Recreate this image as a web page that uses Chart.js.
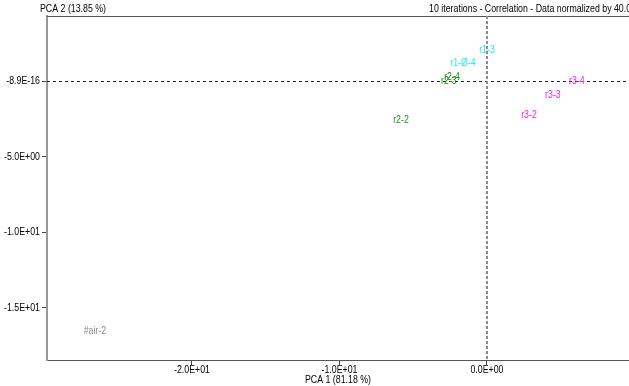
<!DOCTYPE html>
<html>
<head>
<meta charset="utf-8">
<script src="https://cdn.jsdelivr.net/npm/chart.js@4"></script>
<style>
  html, body { margin: 0; padding: 0; background: #fff; }
  #wrap { position: relative; width: 629px; height: 386px; }
</style>
</head>
<body>
<div id="wrap"><canvas id="chart"></canvas></div>
<script>
  // sample labels and their PCA coordinates
  const sampleNames = ['r1-3', 'r1-\u00d8-4', 'r2-4', 'r2-3', 'r2-2', 'r3-4', 'r3-3', 'r3-2', '#air-2'];
  const pca1 = [0.0, -1.63, -2.37, -2.58, -5.83, 6.10, 4.47, 2.85, -26.58];
  const pca2 = [2.05, 1.20, 0.30, 0.02, -2.55, -0.02, -0.90, -2.22, -16.55];
  const sampleColors = ['#22e6f5', '#22e6f5', '#1f8a1f', '#1f8a1f', '#1f8a1f', '#f020f0', '#f020f0', '#f020f0', '#8c8c8c'];

  const xTickValues = [-20, -10, 0];
  const xTickLabels = ['-2.0E+01', '-1.0E+01', '0.0E+00'];
  const yTickValues = [-8.9e-16, -5, -10, -15];
  const yTickLabels = ['-8.9E-16', '-5.0E+00', '-1.0E+01', '-1.5E+01'];

  const xTitle = 'PCA 1 (81.18 %)';
  const yTitle = 'PCA 2 (13.85 %)';
  const infoText = '10 iterations - Correlation - Data normalized by 40.00';

  // the original uses a condensed UI font; squeeze Liberation Sans to match
  const font = '11px "Liberation Sans", Arial, sans-serif';
  const squeeze = 0.8;

  const points = pca1.map((x, i) => ({ x, y: pca2[i] }));

  function drawText(ctx, text, x, y, align, color) {
    ctx.save();
    ctx.translate(x, y);
    ctx.scale(squeeze, 1);
    ctx.font = font;
    ctx.textAlign = align;
    ctx.fillStyle = color;
    ctx.fillText(text, 0, 0);
    ctx.restore();
  }

  const decorations = {
    id: 'decorations',
    beforeDatasetsDraw(chart) {
      const { ctx, chartArea: a, scales } = chart;
      const x0 = scales.x.getPixelForValue(0);
      const y0 = scales.y.getPixelForValue(0);
      ctx.save();
      // top frame line
      ctx.strokeStyle = '#555';
      ctx.lineWidth = 1;
      ctx.beginPath();
      ctx.moveTo(a.left, a.top + 0.5);
      ctx.lineTo(a.right, a.top + 0.5);
      ctx.stroke();
      // zero lines
      ctx.setLineDash([3, 3]);
      ctx.strokeStyle = '#222';
      ctx.beginPath();
      ctx.moveTo(a.left, Math.round(y0) + 0.5);
      ctx.lineTo(a.right, Math.round(y0) + 0.5);
      ctx.stroke();
      ctx.strokeStyle = '#8a8a8a';
      ctx.lineWidth = 2;
      ctx.setLineDash([3, 2]);
      ctx.beginPath();
      ctx.moveTo(Math.round(x0), a.top);
      ctx.lineTo(Math.round(x0), a.bottom);
      ctx.stroke();
      ctx.restore();
    },
    afterDatasetsDraw(chart) {
      const { ctx, chartArea: a, scales } = chart;
      const meta = chart.getDatasetMeta(0);
      ctx.save();
      ctx.textBaseline = 'middle';
      meta.data.forEach((pt, i) => {
        drawText(ctx, sampleNames[i], pt.x, pt.y, 'center', sampleColors[i]);
      });
      // tick labels
      yTickValues.forEach((v, i) => {
        drawText(ctx, yTickLabels[i], a.left - 7, scales.y.getPixelForValue(v), 'right', '#000');
      });
      ctx.textBaseline = 'alphabetic';
      xTickValues.forEach((v, i) => {
        drawText(ctx, xTickLabels[i], scales.x.getPixelForValue(v), a.bottom + 13, 'center', '#000');
      });
      // titles
      drawText(ctx, yTitle, 40, 12, 'left', '#000');
      drawText(ctx, infoText, 636, 12, 'right', '#000');
      drawText(ctx, xTitle, (a.left + a.right) / 2, 383, 'center', '#000');
      ctx.restore();
    }
  };

  new Chart(document.getElementById('chart'), {
    type: 'scatter',
    data: {
      datasets: [{
        data: points,
        pointRadius: 0,
        pointHoverRadius: 0
      }]
    },
    options: {
      responsive: true,
      maintainAspectRatio: false,
      animation: false,
      events: [],
      layout: { padding: { top: 16, right: 0, left: 0, bottom: 0 } },
      plugins: {
        legend: { display: false },
        tooltip: { enabled: false }
      },
      scales: {
        x: {
          type: 'linear',
          min: -29.83,
          max: 9.63,
          afterBuildTicks: scale => {
            scale.ticks = xTickValues.map(value => ({ value }));
          },
          afterFit: scale => { scale.height = 26; },
          ticks: { color: 'rgba(0,0,0,0)', padding: 0, maxRotation: 0, callback: () => '' },
          grid: { drawOnChartArea: false, drawTicks: true, tickLength: 5, color: '#444' },
          border: { color: '#555', width: 1 }
        },
        y: {
          type: 'linear',
          min: -18.44,
          max: 4.30,
          afterBuildTicks: scale => {
            scale.ticks = yTickValues.map(value => ({ value }));
          },
          afterFit: scale => { scale.width = 47; },
          ticks: { color: 'rgba(0,0,0,0)', padding: 1, callback: () => '' },
          grid: { drawOnChartArea: false, drawTicks: true, tickLength: 5, color: '#444' },
          border: { color: '#999', width: 2 }
        }
      }
    },
    plugins: [decorations]
  });
</script>
</body>
</html>
